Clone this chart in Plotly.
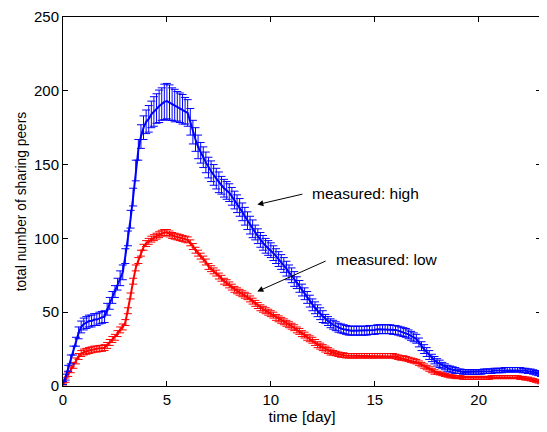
import plotly.graph_objects as go

# ===== data (sampled every 3 hours, days 0..23) =====
step_hours = 3
n_days = 23

blue_high = [
    2, 6, 12, 18, 24, 30, 36, 40,
    42, 43, 44, 44, 45, 45, 46, 46.5,
    47, 52, 56, 60, 64, 69, 73, 77,
    88, 100, 113, 128, 146, 160, 169, 175,
    179, 181, 184, 186, 188, 189.5, 191, 192.5,
    193, 192, 191, 190, 189.5, 188.5, 187.5, 186.5,
    185, 179, 172, 167, 162, 158, 155, 151.5,
    148, 145.5, 143, 140.5, 138, 136, 134, 132.5,
    131, 128.5, 126, 123.5, 121, 118, 115, 112,
    109, 106.5, 104, 101.5, 99, 97, 95, 93.5,
    92, 90, 88, 86, 84, 82, 79.5, 77,
    75, 72.5, 70, 67.5, 65, 62.5, 60, 57.5,
    55, 53, 51, 49, 47, 45.5, 44, 42.5,
    41.5, 40.5, 39.5, 39, 38.5, 38, 37.5, 37.5,
    37.5, 37.5, 37.5, 37.5, 37.5, 37.5, 38, 38,
    38, 38.5, 38.5, 38.5, 38.5, 38.5, 38.5, 38,
    38, 37.5, 37, 36.5, 36, 35, 34, 33,
    32, 29.5, 27, 25, 23, 21, 19, 17.5,
    16, 15, 14, 13, 12, 11.5, 11, 10.5,
    10, 10, 9.5, 9.5, 9.5, 9.5, 9.5, 9.5,
    9.5, 9.5, 10, 10, 10, 10, 10.5, 10.5,
    10.5, 10.5, 11, 11, 11, 11, 11, 11,
    11, 10.5, 10.5, 10, 10, 9.5, 9, 8.5,
    8,
]

blue_err = [
    1, 2, 2, 3, 3, 3, 4, 4,
    4, 4, 4, 4, 4, 4, 4, 4,
    4, 4, 4, 4, 4, 4, 5, 5,
    5, 5, 6, 6, 7, 7, 8, 8,
    8, 9, 9, 10, 10, 11, 11, 12,
    12, 12, 11, 11, 10, 10, 10, 9,
    9, 9, 8, 8, 8, 7, 7, 7,
    7, 7, 7, 7, 7, 6, 6, 6,
    6, 6, 6, 6, 6, 6, 6, 6,
    6, 6, 5, 5, 5, 5, 5, 5,
    5, 5, 5, 5, 5, 5, 5, 5,
    5, 5, 4, 4, 4, 4, 4, 4,
    4, 4, 4, 4, 4, 3, 3, 3,
    3, 3, 3, 3, 3, 3, 3, 3,
    3, 3, 3, 3, 3, 3, 3, 3,
    3, 3, 3, 3, 3, 3, 3, 3,
    3, 3, 3, 3, 3, 3, 3, 3,
    3, 3, 3, 3, 3, 3, 2.5, 2.5,
    2.5, 2.5, 2, 2, 2, 2, 2, 2,
    1.5, 1.5, 1.5, 1.5, 1.5, 1.5, 1.5, 1.5,
    1.5, 1.5, 1.5, 1.5, 1.5, 1.5, 1.5, 1.5,
    1.5, 1.5, 1.5, 1.5, 1.5, 1.5, 1.5, 1.5,
    1.5, 1.5, 1.5, 1.5, 1.5, 1.5, 1.5, 1.5,
    1.5,
]

red_low = [
    1, 4, 8, 11, 14, 17, 20, 22,
    23, 23.5, 24, 24.5, 25, 25, 25.5, 25.5,
    26, 27.5, 29.5, 31.5, 33, 35.5, 38, 40,
    43, 51, 61, 71, 80, 85, 90, 94,
    96.5, 98, 99.5, 100.5, 101.5, 102.5, 103.5, 104,
    104, 103, 102, 101.5, 101, 100.5, 100, 99.5,
    99, 97, 94.5, 92, 90, 88, 86, 84,
    81, 79.5, 78, 76.5, 74.5, 73, 71, 70,
    68.5, 67, 65.5, 64.5, 63.5, 62.5, 61.5, 60.5,
    59, 57.5, 56, 54.5, 53, 52, 51, 50,
    49, 48, 46.5, 45.5, 44.5, 43.5, 42.5, 41.5,
    40.5, 39.5, 38, 37, 35.5, 34.5, 33, 32,
    31, 29.5, 28, 27, 26, 25, 24, 23,
    22.5, 22, 21.5, 21, 21, 20.5, 20.5, 20.5,
    20.5, 20.5, 20.5, 20.5, 20.5, 20.5, 20.5, 20.5,
    20.5, 20.5, 20.5, 20.5, 20.5, 20.5, 20.5, 20.5,
    20, 19.5, 19, 19, 18.5, 18, 17.5, 17,
    16.5, 15.5, 14.5, 13.5, 12.5, 11.5, 10.5, 9.5,
    9, 8.5, 8, 7.5, 7, 6.5, 6.5, 6,
    6, 6, 5.5, 5.5, 5.5, 5.5, 5.5, 5.5,
    5.5, 5.5, 5.5, 5.5, 5.5, 6, 6, 6,
    6, 6, 6, 6, 6, 6, 6, 6,
    5.5, 5.5, 5, 5, 4.5, 4, 3.5, 3,
    2.5,
]

red_err = [
    1, 1.5, 1.5, 2, 2, 2, 2, 2,
    2, 2, 2, 2, 2, 2, 2, 2,
    2, 2, 2, 2, 2, 2, 2, 2,
    2, 2, 2, 2, 2, 2, 2, 2,
    2, 2, 2, 2, 2, 2, 2, 2,
    2, 2, 2, 2, 2, 2, 2, 2,
    2, 2, 2, 2, 2, 2, 2, 2,
    2, 2, 2, 2, 2, 2, 2, 2,
    2, 2, 2, 2, 2, 2, 2, 2,
    2, 2, 2, 2, 2, 2, 2, 2,
    2, 2, 2, 2, 2, 2, 2, 2,
    2, 2, 2, 2, 2, 2, 2, 2,
    2, 2, 2, 2, 2, 2, 2, 2,
    1.5, 1.5, 1.5, 1.5, 1.5, 1.5, 1.5, 1.5,
    1.5, 1.5, 1.5, 1.5, 1.5, 1.5, 1.5, 1.5,
    1.5, 1.5, 1.5, 1.5, 1.5, 1.5, 1.5, 1.5,
    1.5, 1.5, 1.5, 1.5, 1.5, 1.5, 1.5, 1.5,
    1.5, 1.5, 1.5, 1.5, 1.5, 1.5, 1.5, 1.5,
    1, 1, 1, 1, 1, 1, 1, 1,
    1, 1, 1, 1, 1, 1, 1, 1,
    1, 1, 1, 1, 1, 1, 1, 1,
    1, 1, 1, 1, 1, 1, 1, 1,
    1, 1, 1, 1, 1, 1, 1, 1,
    1,
]

x_ticks = [0, 5, 10, 15, 20]
y_ticks = [0, 50, 100, 150, 200, 250]

time_day = [h / 24 for h in range(0, n_days * 24 + 1, step_hours)]

FONT = "Liberation Sans, Arial, sans-serif"

# ===== figure =====
fig = go.Figure()

fig.add_trace(go.Scatter(
    x=time_day, y=red_low, mode='lines', name='measured: low',
    line=dict(color='#ff0000', width=2),
    error_y=dict(type='data', array=red_err, color='#ff0000', thickness=1, width=4),
))
fig.add_trace(go.Scatter(
    x=time_day, y=blue_high, mode='lines', name='measured: high',
    line=dict(color='#0000ff', width=2),
    error_y=dict(type='data', array=blue_err, color='#0000ff', thickness=1, width=4),
))

# labels with arrows
fig.add_annotation(x=9.35, y=122.9, ax=11.59, ay=130.2, axref='x', ayref='y',
                   text='', showarrow=True, arrowhead=2, arrowsize=1.2,
                   arrowwidth=1, arrowcolor='black')
fig.add_annotation(x=11.9, y=130.7, text='measured: high', showarrow=False,
                   xanchor='left', yanchor='middle',
                   font=dict(family=FONT, size=15.5, color='black'))
fig.add_annotation(x=9.35, y=64, ax=12.71, ay=85.1, axref='x', ayref='y',
                   text='', showarrow=True, arrowhead=2, arrowsize=1.2,
                   arrowwidth=1, arrowcolor='black')
fig.add_annotation(x=13.02, y=85.5, text='measured: low', showarrow=False,
                   xanchor='left', yanchor='middle',
                   font=dict(family=FONT, size=15.5, color='black'))

axis_common = dict(
    showline=True, linecolor='black', linewidth=1, mirror='ticks',
    ticks='inside', ticklen=5, tickcolor='black', tickwidth=1,
    showgrid=False, zeroline=False, automargin=False,
    ticklabeloverflow='allow',
    tickfont=dict(family=FONT, size=15, color='black'),
)

# page body adds 8px offset, so the figure is 8px smaller on each side
fig.update_layout(
    width=539, height=424,
    margin=dict(l=55, r=6, t=9, b=46),
    plot_bgcolor='white', paper_bgcolor='white',
    showlegend=False,
    xaxis=dict(range=[0, 23], tickvals=x_ticks,
               title=dict(text='time [day]', standoff=2,
                          font=dict(family=FONT, size=15.5, color='black')),
               **axis_common),
    yaxis=dict(range=[0, 250], tickvals=y_ticks,
               title=dict(text='total number of sharing peers', standoff=4,
                          font=dict(family=FONT, size=13.8, color='black')),
               **axis_common),
)

fig.write_html("out.html")
